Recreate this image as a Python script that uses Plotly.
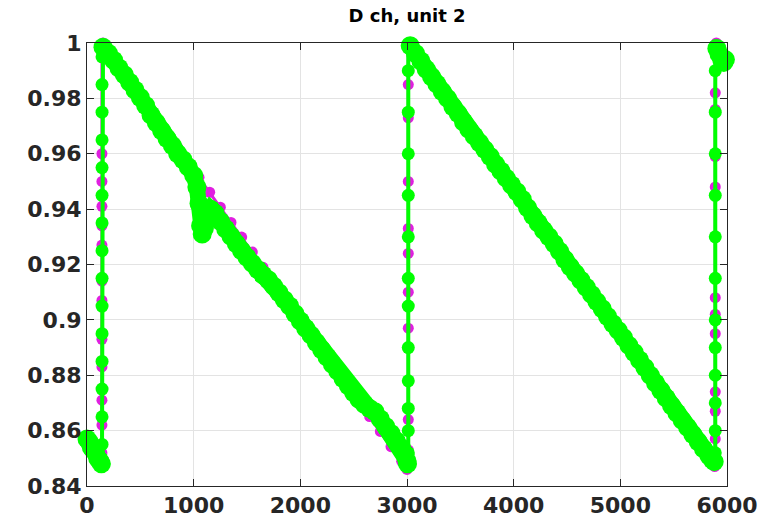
import plotly.graph_objects as go

# ---- data ----
magenta_x = [0, 40, 80, 120, 135,
             140, 140, 140, 140, 140, 140, 140, 140, 140, 140, 140, 140, 140, 140, 140,
             150, 250, 350, 450, 550, 650, 750, 850, 950, 1050, 1150, 1250, 1350, 1450,
             1550, 1650, 1750, 1850, 1950, 2050, 2150, 2250, 2350, 2450, 2550, 2650,
             2750, 2850, 2950, 3000,
             3012, 3012, 3012, 3012, 3012, 3012, 3012, 3012, 3012, 3012, 3012,
             3020, 3120, 3220, 3320, 3420, 3520, 3620, 3720, 3820, 3920, 4020, 4120,
             4220, 4320, 4420, 4520, 4620, 4720, 4820, 4920, 5020, 5120, 5220, 5320,
             5420, 5520, 5620, 5720, 5820, 5885,
             5890, 5890, 5890, 5890, 5890, 5890, 5890, 5890, 5890, 5890, 5890,
             5900, 5930, 5955]
magenta_y = [0.856, 0.853, 0.851, 0.848, 0.847,
             0.852, 0.862, 0.871, 0.883, 0.893, 0.907, 0.914, 0.927, 0.934, 0.941, 0.950,
             0.960, 0.975, 0.985, 0.995,
             1.000, 0.9946, 0.9893, 0.9838, 0.9785, 0.9731, 0.9676, 0.9623, 0.9569,
             0.9515, 0.9461, 0.9407, 0.9352, 0.9299, 0.9245, 0.9190, 0.9137, 0.9083,
             0.9029, 0.8974, 0.8921, 0.8867, 0.8812, 0.8759, 0.8705, 0.8651, 0.8597,
             0.8542, 0.8489, 0.8460,
             0.853, 0.864, 0.878, 0.897, 0.910, 0.924, 0.933, 0.950, 0.973, 0.985, 0.998,
             1.000, 0.9947, 0.9893, 0.9840, 0.9787, 0.9733, 0.9680, 0.9627, 0.9573,
             0.9520, 0.9466, 0.9413, 0.9360, 0.9306, 0.9253, 0.9200, 0.9146, 0.9093,
             0.9040, 0.8986, 0.8933, 0.8880, 0.8826, 0.8773, 0.8720, 0.8666, 0.8613,
             0.8560, 0.8506, 0.8470,
             0.857, 0.867, 0.874, 0.880, 0.895, 0.902, 0.908, 0.948, 0.959, 0.976, 0.982,
             1.000, 0.998, 0.996]

green_x = [0, 20, 40, 60, 80, 100, 120, 135,
           141, 141, 141, 141, 141, 141, 141, 141, 141, 141, 141, 141, 141, 141, 141,
           150, 200, 250, 300, 350, 400, 450, 500, 550, 600, 650, 700, 750, 800, 850,
           900, 950, 1000, 1030, 1050, 1065, 1080, 1100, 1130, 1160, 1200, 1250, 1300,
           1350, 1400, 1450, 1500, 1550, 1600, 1650, 1700, 1750, 1800, 1850, 1900,
           1950, 2000, 2050, 2100, 2150, 2200, 2250, 2300, 2350, 2400, 2450, 2500,
           2550, 2600, 2650, 2700, 2750, 2800, 2850, 2900, 2950, 2980, 3000, 3005,
           3012, 3012, 3012, 3012, 3012, 3012, 3012, 3012, 3012, 3012, 3012, 3012, 3012,
           3030, 3080, 3130, 3180, 3230, 3280, 3330, 3380, 3430, 3480, 3530, 3580,
           3630, 3680, 3730, 3780, 3830, 3880, 3930, 3980, 4030, 4080, 4130, 4180,
           4230, 4280, 4330, 4380, 4430, 4480, 4530, 4580, 4630, 4680, 4730, 4780,
           4830, 4880, 4930, 4980, 5030, 5080, 5130, 5180, 5230, 5280, 5330, 5380,
           5430, 5480, 5530, 5580, 5630, 5680, 5730, 5780, 5830, 5860, 5880,
           5890, 5890, 5890, 5890, 5890, 5890, 5890, 5890, 5890, 5890, 5890, 5890, 5890,
           5905, 5925, 5950, 5970, 5985]
green_y = [0.857, 0.856, 0.854, 0.853, 0.852, 0.850, 0.849, 0.848,
           0.855, 0.865, 0.875, 0.885, 0.895, 0.905, 0.915, 0.925, 0.935, 0.945, 0.955,
           0.965, 0.975, 0.985, 0.995,
           0.9985, 0.9963, 0.9938, 0.9910, 0.9885, 0.9858, 0.9830, 0.9803, 0.9774,
           0.9740, 0.9712, 0.9683, 0.9655, 0.9630, 0.9600, 0.9578, 0.9552, 0.9522,
           0.9480, 0.9420, 0.9340, 0.9310, 0.9330, 0.9380, 0.9400, 0.9385, 0.9356,
           0.9328, 0.9302, 0.9275, 0.9250, 0.9226, 0.9204, 0.9182, 0.9162, 0.9145,
           0.9122, 0.9098, 0.9073, 0.9050, 0.9022, 0.8996, 0.8970, 0.8945, 0.8918,
           0.8892, 0.8866, 0.8840, 0.8815, 0.8788, 0.8762, 0.8737, 0.8713, 0.8695,
           0.8680, 0.8668, 0.8642, 0.8615, 0.8590, 0.8563, 0.8537, 0.8515, 0.8490,
           0.8480,
           0.852, 0.860, 0.868, 0.878, 0.890, 0.905, 0.915, 0.930, 0.945, 0.960, 0.975,
           0.990, 0.999,
           0.9990, 0.9962, 0.9935, 0.9905, 0.9878, 0.9852, 0.9825, 0.9800, 0.9770,
           0.9745, 0.9715, 0.9688, 0.9664, 0.9640, 0.9615, 0.9590, 0.9562, 0.9538,
           0.9512, 0.9487, 0.9463, 0.9436, 0.9405, 0.9376, 0.9350, 0.9324, 0.9300,
           0.9275, 0.9248, 0.9218, 0.9192, 0.9168, 0.9143, 0.9118, 0.9092, 0.9066,
           0.9040, 0.9012, 0.8986, 0.8962, 0.8936, 0.8908, 0.8882, 0.8855, 0.8828,
           0.8800, 0.8772, 0.8745, 0.8718, 0.8690, 0.8664, 0.8637, 0.8612, 0.8586,
           0.8560, 0.8534, 0.8510, 0.8496, 0.8488,
           0.852, 0.860, 0.870, 0.880, 0.890, 0.900, 0.915, 0.930, 0.945, 0.960, 0.975,
           0.990, 0.999,
           0.998, 0.996, 0.994, 0.993, 0.994]

x_ticks = [0, 1000, 2000, 3000, 4000, 5000, 6000]
y_ticks = [0.84, 0.86, 0.88, 0.9, 0.92, 0.94, 0.96, 0.98, 1]
y_tick_text = ["0.84", "0.86", "0.88", "0.9", "0.92", "0.94", "0.96", "0.98", "1"]
title_text = "D ch, unit 2"

MAGENTA = "#e01fe0"
GREEN = "#00ff00"
AXC = "#262626"
GRIDC = "#e3e3e3"
FONT = "DejaVu Sans"

# points that belong to a vertical jump (same x as a neighbour)
n = len(green_x)
is_jump = [(i > 0 and green_x[i] == green_x[i - 1]) or
           (i < n - 1 and green_x[i] == green_x[i + 1]) for i in range(n)]

# thick band through the sloping (non-jump) parts of the green series
band_x, band_y = [], []
prev = None
for i in range(n):
    if is_jump[i]:
        continue
    if prev is not None and i != prev + 1:
        band_x.append(None)
        band_y.append(None)
    band_x.append(green_x[i])
    band_y.append(green_y[i])
    prev = i

green_sizes = [13 if j else 19 for j in is_jump]

fig = go.Figure()
fig.add_trace(go.Scatter(
    x=magenta_x, y=magenta_y, mode="lines+markers",
    line=dict(color=MAGENTA, width=3),
    marker=dict(color=MAGENTA, size=11, opacity=1, line=dict(width=0)),
    cliponaxis=False, showlegend=False))
fig.add_trace(go.Scatter(
    x=band_x, y=band_y, mode="lines", connectgaps=False,
    line=dict(color=GREEN, width=16),
    cliponaxis=False, showlegend=False, hoverinfo="skip"))
fig.add_trace(go.Scatter(
    x=green_x, y=green_y, mode="lines+markers",
    line=dict(color=GREEN, width=4),
    marker=dict(color=GREEN, size=green_sizes, opacity=1, line=dict(width=0)),
    cliponaxis=False, showlegend=False))

axis_common = dict(
    showline=True, linecolor=AXC, linewidth=1, mirror="ticks",
    ticks="inside", ticklen=7, tickcolor=AXC, tickwidth=1,
    showgrid=True, gridcolor=GRIDC, gridwidth=1, zeroline=False,
    tickfont=dict(family=FONT, size=22, color=AXC, weight="bold"),
)

fig.update_layout(
    width=774, height=530,
    margin=dict(l=87, r=47, t=43, b=35),
    paper_bgcolor="white", plot_bgcolor="white",
    title=dict(text=title_text, x=0.526, xanchor="center",
               y=1 - 16 / 530, yanchor="middle", yref="container",
               font=dict(family=FONT, size=18, color="#000000", weight="bold")),
    xaxis=dict(range=[0, 6000], tickvals=x_ticks,
               ticktext=[str(v) for v in x_ticks], **axis_common),
    yaxis=dict(range=[0.84, 1.0], tickvals=y_ticks, ticktext=y_tick_text,
               **axis_common),
)

fig.write_html("out.html")
